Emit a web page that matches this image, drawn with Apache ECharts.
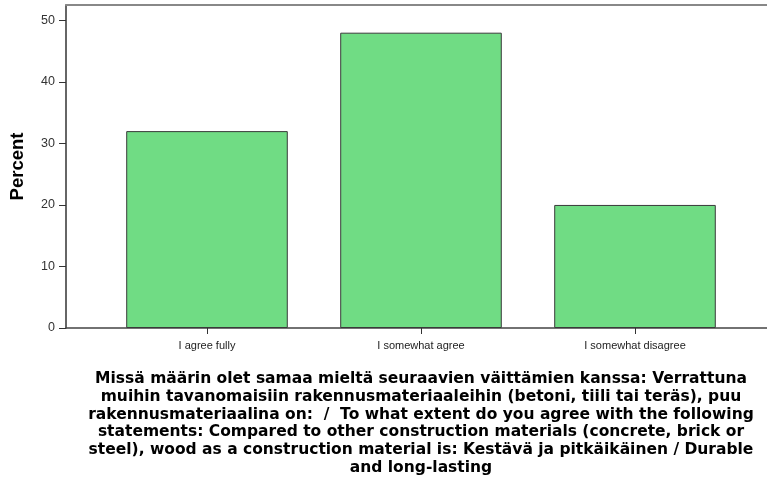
<!DOCTYPE html>
<html><head><meta charset="utf-8">
<script src="https://cdn.jsdelivr.net/npm/echarts@6/dist/echarts.min.js"></script>
<style>html,body{margin:0;padding:0;background:#fff}#c{width:767px;height:482px}</style>
</head><body><div id="c"></div>
<script>
const categories = ['I agree fully', 'I somewhat agree', 'I somewhat disagree'];
const percentValues = [32.0, 48.0, 20.0];
const yTicks = [0, 10, 20, 30, 40, 50];
const yAxisTitle = 'Percent';
const xAxisTitle = 'Missä määrin olet samaa mieltä seuraavien väittämien kanssa: Verrattuna\nmuihin tavanomaisiin rakennusmateriaaleihin (betoni, tiili tai teräs), puu\nrakennusmateriaalina on:  /  To what extent do you agree with the following\nstatements: Compared to other construction materials (concrete, brick or\nsteel), wood as a construction material is: Kestävä ja pitkäikäinen / Durable\nand long-lasting';
const yMax = 52.5;

const chart = echarts.init(document.getElementById('c'), null, {renderer: 'canvas'});
chart.setOption({
  animation: false,
  grid: [
    {left: 100, right: 25, top: 5, bottom: 154},
    {left: 64, right: -2, top: 5, bottom: 154}
  ],
  xAxis: [
    {gridIndex: 0, type: 'category', data: categories,
     axisLine: {show: false},
     axisTick: {show: true, alignWithLabel: true, length: 6, lineStyle: {color: '#333'}},
     axisLabel: {color: '#222', fontFamily: 'Liberation Sans, Arial', fontSize: 11, margin: 12},
     name: xAxisTitle, nameLocation: 'middle', nameGap: 42,
     nameTextStyle: {fontFamily: 'DejaVu Sans', fontWeight: 'bold', fontSize: 15.5, color: '#000', lineHeight: 17.8, verticalAlign: 'top'}},
    {gridIndex: 1, type: 'value', min: 0, max: 1, position: 'bottom',
     axisLine: {show: true, lineStyle: {color: '#444', width: 1.5}},
     axisTick: {show: false}, axisLabel: {show: false}, splitLine: {show: false}},
    {gridIndex: 1, type: 'value', min: 0, max: 1, position: 'top',
     axisLine: {show: true, lineStyle: {color: '#888', width: 2}},
     axisTick: {show: false}, axisLabel: {show: false}, splitLine: {show: false}}
  ],
  yAxis: [
    {gridIndex: 0, type: 'value', min: 0, max: yMax, show: false, splitLine: {show: false}},
    {gridIndex: 1, type: 'value', min: 0, max: yMax,
     axisLine: {show: true, lineStyle: {color: '#333', width: 1.5}},
     axisTick: {show: true, length: 7, customValues: yTicks, lineStyle: {color: '#333'}},
     axisLabel: {customValues: yTicks, color: '#333', fontFamily: 'Liberation Sans, Arial', fontSize: 12.5, margin: 11},
     splitLine: {show: false},
     name: yAxisTitle, nameLocation: 'middle', nameGap: 39, nameRotate: 90,
     nameTextStyle: {fontFamily: 'Liberation Sans, Arial', fontWeight: 'bold', fontSize: 18.5, color: '#000'}}
  ],
  series: [{
    type: 'bar', xAxisIndex: 0, yAxisIndex: 0, data: percentValues,
    barWidth: '75.5%',
    itemStyle: {color: '#70DC84', borderColor: '#3a3a3a', borderWidth: 1}
  }]
});
</script></body></html>
